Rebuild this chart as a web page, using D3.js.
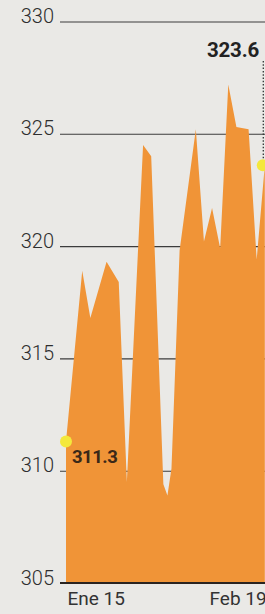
<!DOCTYPE html>
<html>
<head>
<meta charset="utf-8">
<script src="https://cdn.jsdelivr.net/npm/d3@7/dist/d3.min.js"></script>
<style>
  html, body { margin: 0; padding: 0; background: #eae9e6; }
  svg { display: block; }
</style>
</head>
<body>
<svg id="chart" width="265" height="614"></svg>
<script>
// ---- data ----
const dates = ["2021-01-15","2021-01-19","2021-01-21","2021-01-25","2021-01-28","2021-01-30",
               "2021-02-03","2021-02-05","2021-02-08","2021-02-09","2021-02-10","2021-02-12",
               "2021-02-16","2021-02-18","2021-02-20","2021-02-22","2021-02-24","2021-02-26",
               "2021-03-01","2021-03-03","2021-03-05"];
const values = [311.3, 318.9, 316.8, 319.3, 318.4, 309.5,
                324.5, 324.0, 309.4, 308.9, 310.1, 319.8,
                325.2, 320.2, 321.7, 319.9, 327.2, 325.3,
                325.2, 319.4, 323.6];
const yTicks = [305, 310, 315, 320, 325, 330];
const xTickDates = ["2021-01-15", "2021-02-19"];
const xTickLabels = ["Ene 15", "Feb 19"];
const firstLabel = "311.3";
const lastLabel = "323.6";

// ---- setup ----
const parse = d3.timeParse("%Y-%m-%d");
const data = dates.map((d, i) => ({ date: parse(d), value: values[i] }));
const svg = d3.select("#chart");
const W = 265, H = 614;

svg.append("rect").attr("width", W).attr("height", H).attr("fill", "#eae9e6");

const x = d3.scaleTime()
  .domain([parse(xTickDates[0]), parse(xTickDates[1])])
  .range([66, 208]);
const y = d3.scaleLinear().domain([305, 330]).range([583, 21.5]);

const gridLeft = 60;

// y axis with gridlines
const yAxis = svg.append("g")
  .attr("transform", `translate(${gridLeft},0)`)
  .call(d3.axisLeft(y).tickValues(yTicks).tickSize(-(W - gridLeft)).tickPadding(6));
yAxis.select(".domain").remove();
yAxis.selectAll(".tick line").attr("stroke", "#3c3c3c").attr("stroke-width", 1.1);
yAxis.selectAll(".tick text")
  .attr("font-family", "Roboto, 'Open Sans', sans-serif")
  .attr("font-weight", 300)
  .attr("font-size", 20)
  .attr("fill", "#2e2e2e")
  .attr("dy", 0)
  .attr("y", 1);

// area
const area = d3.area()
  .x(d => x(d.date))
  .y0(y(305))
  .y1(d => y(d.value))
  .curve(d3.curveLinear);
svg.append("path").datum(data)
  .attr("d", area)
  .attr("fill", "#f09437");

// bottom baseline
svg.append("line")
  .attr("x1", gridLeft).attr("x2", W)
  .attr("y1", y(305)).attr("y2", y(305))
  .attr("stroke", "#2a2420").attr("stroke-width", 2.2);

// x axis labels
const xAxis = svg.append("g")
  .attr("transform", `translate(0,${y(305)})`)
  .call(d3.axisBottom(x)
    .tickValues(xTickDates.map(parse))
    .tickSize(0)
    .tickFormat((d, i) => xTickLabels[i]));
xAxis.select(".domain").remove();
xAxis.selectAll(".tick text")
  .attr("font-family", "Roboto, 'Open Sans', sans-serif")
  .attr("font-weight", 400)
  .attr("font-size", 19)
  .attr("fill", "#333")
  .attr("text-anchor", "start")
  .attr("x", 1)
  .attr("dy", 0)
  .attr("y", 22);

// annotations
const first = data[0], last = data[data.length - 1];

svg.append("line")
  .attr("x1", x(last.date) - 1.5).attr("x2", x(last.date) - 1.5)
  .attr("y1", 61).attr("y2", y(last.value))
  .attr("stroke", "#333").attr("stroke-width", 1.3)
  .attr("stroke-dasharray", "1.5,1.8");

svg.append("circle")
  .attr("cx", x(first.date)).attr("cy", y(first.value))
  .attr("r", 6).attr("fill", "#f4e83c");
svg.append("circle")
  .attr("cx", x(last.date) - 2).attr("cy", y(last.value))
  .attr("r", 6).attr("fill", "#f4e83c");

svg.append("text")
  .attr("x", x(first.date) + 6).attr("y", y(first.value) + 21)
  .attr("font-family", "Roboto, 'Open Sans', sans-serif")
  .attr("font-weight", 700)
  .attr("font-size", 18.5)
  .attr("letter-spacing", -0.5)
  .attr("fill", "#3a2818")
  .text(firstLabel);

svg.append("text")
  .attr("x", 259).attr("y", 57)
  .attr("text-anchor", "end")
  .attr("font-family", "Roboto, 'Open Sans', sans-serif")
  .attr("font-weight", 700)
  .attr("font-size", 20.5)
  .attr("letter-spacing", -0.2)
  .attr("fill", "#222")
  .text(lastLabel);
</script>
</body>
</html>
